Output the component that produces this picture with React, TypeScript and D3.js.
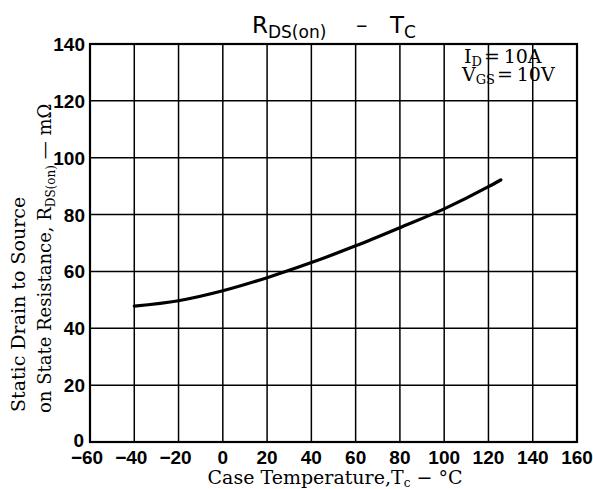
import React from "react";
import * as d3 from "d3";

const xTicks = [-60, -40, -20, 0, 20, 40, 60, 80, 100, 120, 140, 160];
const yTicks = [0, 20, 40, 60, 80, 100, 120, 140];
const tempC = [-40, -20, 0, 20, 40, 60, 80, 100, 120, 125.6];
const rdsOn = [47.8, 49.7, 53.2, 57.8, 63.1, 69.0, 75.4, 82.0, 89.8, 92.2];

const W = 593;
const H = 489;
const left = 90, right = 577, top = 44, bottom = 442;

export default function App() {
  const x = d3.scaleLinear().domain([-60, 160]).range([left, right]);
  const y = d3.scaleLinear().domain([0, 140]).range([bottom, top]);
  const pts = tempC.map((t, i) => [t, rdsOn[i]] as [number, number]);
  const line = d3
    .line<[number, number]>()
    .x((d) => x(d[0]))
    .y((d) => y(d[1]))
    .curve(d3.curveMonotoneX);

  const tickFont = "'Liberation Sans Narrow', 'Liberation Sans', Arial, sans-serif";
  const serif = "'DejaVu Serif', serif";

  return (
    <svg
      width={W}
      height={H}
      viewBox={`0 0 ${W} ${H}`}
      style={{ position: "absolute", left: 0, top: 0, background: "#fff" }}
    >
      <rect x={0} y={0} width={W} height={H} fill="#fff" />
      {/* grid */}
      {xTicks.map((t) => (
        <line key={"gx" + t} x1={x(t)} x2={x(t)} y1={top} y2={bottom} stroke="#000" strokeWidth={1.5} />
      ))}
      {yTicks.map((t) => (
        <line key={"gy" + t} x1={left} x2={right} y1={y(t)} y2={y(t)} stroke="#000" strokeWidth={1.5} />
      ))}
      <rect x={left} y={top} width={right - left} height={bottom - top} fill="none" stroke="#000" strokeWidth={2.2} />

      {/* curve */}
      <path d={line(pts) || ""} fill="none" stroke="#000" strokeWidth={3.2} strokeLinecap="round" />

      {/* x tick labels */}
      {xTicks.map((t) => (
        <text
          key={"xl" + t}
          x={x(t) - (t < 0 ? 3 : 0)}
          y={464}
          textAnchor="middle"
          fontFamily={tickFont}
          fontWeight="bold"
          fontSize={19}
          fill="#000"
        >
          {t < 0 ? "\u2212" + Math.abs(t) : String(t)}
        </text>
      ))}
      {/* y tick labels */}
      {yTicks.map((t) => (
        <text
          key={"yl" + t}
          x={t === 0 ? 84 : 85}
          y={t === 0 ? y(t) + 5 : y(t) + 7}
          textAnchor="end"
          fontFamily={tickFont}
          fontWeight="bold"
          fontSize={19}
          fill="#000"
        >
          {String(t)}
        </text>
      ))}

      {/* title */}
      <text x={252} y={33} fontFamily="'DejaVu Sans', sans-serif" fontSize={23} fill="#000">
        R<tspan fontSize={17} dy={5}>DS(on)</tspan>
        <tspan x={356} dy={-5} fontSize={23}>{"\u2013"}</tspan>
        <tspan x={390}>T</tspan>
        <tspan fontSize={17} dy={5}>C</tspan>
      </text>

      {/* legend */}
      <text x={464} y={63} fontFamily={serif} fontSize={19} fill="#000">
        I<tspan fontSize={13} dy={3}>D</tspan>
        <tspan dy={-3} dx={2}>{"=\u200910A"}</tspan>
      </text>
      <text x={462} y={81} fontFamily={serif} fontSize={19} fill="#000">
        V<tspan fontSize={13} dy={3}>GS</tspan>
        <tspan dy={-3} dx={2}>{"=\u200910V"}</tspan>
      </text>

      {/* x axis title */}
      <text x={335} y={484} textAnchor="middle" fontFamily={serif} fontSize={19} fill="#000">
        Case Temperature,T<tspan fontSize={12} dy={3}>c</tspan>
        <tspan dy={-3}>{" \u2212 \u00B0C"}</tspan>
      </text>

      {/* y axis title */}
      <g transform="translate(25,412) rotate(-90)">
        <text x={0} y={0} fontFamily={serif} fontSize={19} fill="#000">
          Static Drain to Source
        </text>
      </g>
      <g transform="translate(51,413) rotate(-90)">
        <text x={0} y={0} fontFamily={serif} fontSize={18} fill="#000">
          on State Resistance, R<tspan fontSize={12} dy={4}>DS(on)</tspan>
          <tspan dy={-4}>{" \u2014 m\u03A9"}</tspan>
        </text>
      </g>
    </svg>
  );
}
